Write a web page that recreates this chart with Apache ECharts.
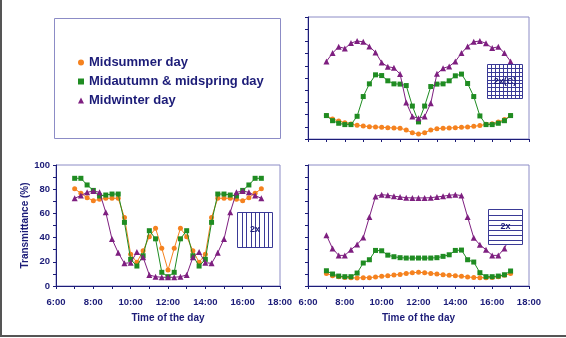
<!DOCTYPE html>
<html>
<head>
<meta charset="utf-8">
<script src="https://cdn.jsdelivr.net/npm/echarts@6/dist/echarts.min.js"></script>
<style>
html,body{margin:0;padding:0;background:#fff;}
#c{width:566px;height:338px;}
</style>
</head>
<body>
<div id="c"></div>
<script>
// ---- data ----
const times = ['7:00','7:20','7:40','8:00','8:20','8:40','9:00','9:20','9:40','10:00','10:20','10:40',
  '11:00','11:20','11:40','12:00','12:20','12:40','13:00','13:20','13:40','14:00','14:20','14:40',
  '15:00','15:20','15:40','16:00','16:20','16:40','17:00'];
const seriesNames = ['Midsummer day', 'Midautumn & midspring day', 'Midwinter day'];

// top-right panel: 2x(C)
const summerTop = [19.2,16.4,14.8,13.4,12.3,11.2,10.7,10.1,9.9,9.6,9.3,9,8.8,7.4,5.2,4.1,5.2,7.4,8.5,8.8,9,9.3,9.6,9.9,10.4,11,12,12.6,14,15.9,19.2];
const autumnTop = [19.2,15,12.9,11.8,11.8,18.6,34.8,45.2,52.6,52,47.7,45.2,45,43.8,27,14,27,43,45,45.2,47.7,51.8,53.2,45.5,34.8,18.9,11.8,11.8,12.9,15,19.2];
const winterTop = [63.6,70.4,75.6,74.2,78.6,80.3,79.7,75.9,71,62.7,59.2,58.4,53.2,29.9,18.4,17,18.4,29.3,53.4,58,59.5,63.6,70.4,75.9,79.7,80.3,78.4,74.5,75.6,70.4,63.6];

// bottom-left panel: 2x (vertical)
const summerLeft = [80.4,76.6,73,70.5,71.6,72.5,72.5,72.5,56.7,26.2,19.6,29.2,40.8,47.7,31.1,13.2,31.1,47.7,40.8,29.2,19.6,26.2,56.7,72.5,72.5,72.5,71.6,70.5,73,76.6,80.4];
const autumnLeft = [89,89,83.5,79,74.4,75.2,76,76,52.6,22,16.5,25,45.7,39,11.3,7.7,11.3,39,45.7,25,16.5,22,52.6,76,76,75.2,74.4,79,83.5,89,89];
const winterLeft = [72.5,74.7,77.4,78.5,77.4,60.9,38.8,27.5,18.7,19.3,28.1,23.7,9.1,7.7,7.2,7.2,7.2,7.7,9.1,23.7,28.1,19.3,18.7,27.5,38.8,60.9,77.4,78.5,77.4,74.7,72.5];

// bottom-right panel: 2x (horizontal)
const summerRight = [10.4,8.5,7.7,7.1,6.9,6.6,6.9,6.9,7.4,8,8.5,9.1,9.6,10.4,11,11.3,11,10.4,9.9,9.3,8.8,8.5,8,7.4,7.1,6.9,6.9,7.1,7.7,8.8,10.4];
const autumnRight = [12.6,9.9,8.2,7.7,7.7,10.7,19,21.7,29.4,29.1,25.5,24.2,23.4,23.1,23.1,23.1,23.1,23.1,23.4,24.5,25.8,29.4,29.7,21.7,19.8,11,7.7,7.7,8.2,9.3,12.4];
const winterRight = [42,31,25.3,25.3,30,34.3,40,57,74,75.5,75,74.2,73.6,73,72.8,72.8,72.8,73,73.6,74.2,75,75.5,74.7,57,39.8,34,30,25.3,25.3,31,42];

const xAxisTitle = 'Time of the day';
const yAxisTitle = 'Transmittance (%)';
const boxLabels = ['2x(C)', '2x', '2x'];

// ---- style ----
const NAVY = '#1c1c78';
const FRAME = '#8c8cc6';
const BOXLINE = '#3a3a96';
const COLORS = ['#f5821f', '#1f8c22', '#7e1f80'];
const SYMBOLS = ['circle', 'rect', 'triangle'];
const SIZES = [5, 5, 6];
const FONT = '"Liberation Sans", Arial, sans-serif';

const toHour = t => { const p = t.split(':'); return +p[0] + (+p[1]) / 60; };
const pts = arr => arr.map((v, i) => [toHour(times[i]), v]);

const grids = [
  {left: 308, top: 17, width: 221, height: 122},
  {left: 56, top: 165, width: 224, height: 121},
  {left: 308, top: 165, width: 221, height: 121}
];
const panels = [
  [summerTop, autumnTop, winterTop],
  [summerLeft, autumnLeft, winterLeft],
  [summerRight, autumnRight, winterRight]
];

const xAxes = grids.map((g, k) => ({
  type: 'value', gridIndex: k, min: 6, max: 18, interval: 1,
  axisLine: {lineStyle: {color: NAVY, width: 1}},
  axisTick: {show: true, length: 3, lineStyle: {color: NAVY}},
  splitLine: {show: false},
  axisLabel: {
    show: k > 0, color: NAVY, fontFamily: FONT, fontWeight: 'bold', fontSize: 9.5, margin: 11,
    formatter: v => (v % 2 === 0 ? v + ':00' : '')
  },
  name: k > 0 ? xAxisTitle : '', nameLocation: 'middle', nameGap: 27,
  nameTextStyle: {color: NAVY, fontFamily: FONT, fontWeight: 'bold', fontSize: 10}
}));
const yAxes = grids.map((g, k) => ({
  type: 'value', gridIndex: k, min: 0, max: 100, interval: 10,
  axisLine: {show: true, lineStyle: {color: NAVY, width: 1}},
  axisTick: {show: true, length: 3, lineStyle: {color: NAVY}},
  splitLine: {show: false},
  axisLabel: {
    show: k === 1, color: NAVY, fontFamily: FONT, fontWeight: 'bold', fontSize: 9.5, margin: 6,
    formatter: v => (v % 20 === 0 ? String(v) : '')
  },
  name: k === 1 ? yAxisTitle : '', nameLocation: 'middle', nameGap: 17,
  nameTextStyle: {color: NAVY, fontFamily: FONT, fontWeight: 'bold', fontSize: 10}
}));

const series = [];
panels.forEach((set, k) => {
  set.forEach((arr, s) => {
    series.push({
      type: 'line', name: seriesNames[s], xAxisIndex: k, yAxisIndex: k,
      data: pts(arr), symbol: SYMBOLS[s], symbolSize: SIZES[s], showSymbol: true,
      lineStyle: {color: COLORS[s], width: 1}, itemStyle: {color: COLORS[s]},
      animation: false, z: 2 + s
    });
  });
});

// pattern boxes (annotations, drawn above the lines)
function boxGraphic(x, y, w, h, nv, nh, label) {
  const Z = 200;
  const children = [{type: 'rect', z: Z, shape: {x: x, y: y, width: w, height: h},
    style: {fill: '#fff', stroke: BOXLINE, lineWidth: 1}}];
  for (let i = 1; i < nv; i++) {
    const xx = Math.round(x + w * i / nv) + 0.5;
    children.push({type: 'line', z: Z + 1, shape: {x1: xx, y1: y, x2: xx, y2: y + h}, style: {stroke: BOXLINE, lineWidth: 1}});
  }
  for (let j = 1; j < nh; j++) {
    const yy = Math.round(y + h * j / nh) + 0.5;
    children.push({type: 'line', z: Z + 1, shape: {x1: x, y1: yy, x2: x + w, y2: yy}, style: {stroke: BOXLINE, lineWidth: 1}});
  }
  children.push({type: 'text', z: Z + 2, x: x + w / 2, y: y + h / 2,
    style: {text: label, fill: NAVY, font: 'bold 9px ' + FONT, align: 'center', verticalAlign: 'middle'}});
  return {type: 'group', z: Z, children: children};
}

const graphics = [
  // outer frame (left & bottom)
  {type: 'line', z: 200, shape: {x1: 1, y1: 0, x2: 1, y2: 336}, style: {stroke: '#555', lineWidth: 2}},
  {type: 'line', z: 200, shape: {x1: 0, y1: 336, x2: 566, y2: 336}, style: {stroke: '#555', lineWidth: 2}},
  // legend frame
  {type: 'rect', z: 1, shape: {x: 54.5, y: 18.5, width: 226, height: 120}, style: {fill: 'none', stroke: FRAME, lineWidth: 1}},
  boxGraphic(487.5, 64.5, 35, 34, 9, 9, boxLabels[0]),
  boxGraphic(237.5, 212.5, 35, 35, 8, 1, boxLabels[1]),
  boxGraphic(488.5, 209.5, 34, 35, 1, 7, boxLabels[2])
];

const chart = echarts.init(document.getElementById('c'), null, {renderer: 'canvas'});
chart.setOption({
  backgroundColor: '#fff',
  animation: false,
  grid: grids.map(g => Object.assign({show: true, borderColor: FRAME, borderWidth: 1, backgroundColor: 'transparent'}, g)),
  xAxis: xAxes,
  yAxis: yAxes,
  legend: {
    orient: 'vertical', left: 73, top: 51, itemGap: 6, itemWidth: 6, itemHeight: 6,
    selectedMode: false,
    textStyle: {color: NAVY, fontFamily: FONT, fontWeight: 'bold', fontSize: 13},
    data: seriesNames.map((n, i) => ({name: n, icon: SYMBOLS[i]}))
  },
  series: series,
  graphic: graphics
});
</script>
</body>
</html>
